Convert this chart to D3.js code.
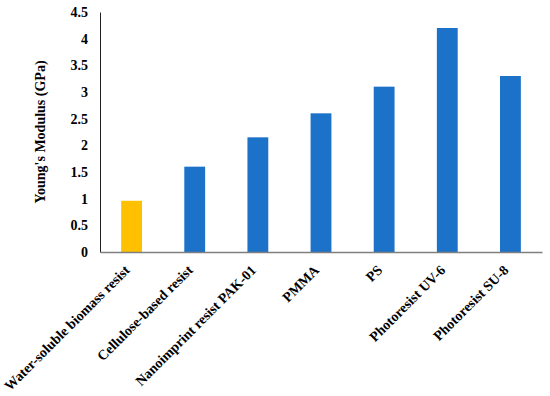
<!DOCTYPE html>
<html>
<head>
<meta charset="utf-8">
<script src="https://cdn.jsdelivr.net/npm/d3@7"></script>
<style>
  body { margin: 0; background: #fff; }
  svg text { font-family: "Liberation Serif", "Times New Roman", serif; font-weight: bold; }
</style>
</head>
<body>
<div id="chart"></div>
<script>
// chart data
const categories = [
  "Water-soluble biomass resist",
  "Cellulose-based resist",
  "Nanoimprint resist PAK-01",
  "PMMA",
  "PS",
  "Photoresist UV-6",
  "Photoresist SU-8"
];
const modulus = [0.96, 1.6, 2.15, 2.6, 3.1, 4.2, 3.3];
const yTicks = [0, 0.5, 1, 1.5, 2, 2.5, 3, 3.5, 4, 4.5];

const width = 550, height = 396;
const margin = { top: 12, right: 8, bottom: 144, left: 100 };

const svg = d3.select("#chart")
  .append("svg")
  .attr("width", width)
  .attr("height", height);

const x = d3.scaleBand()
  .domain(categories)
  .range([margin.left, width - margin.right])
  .paddingInner(0.67)
  .paddingOuter(0.335);

const y = d3.scaleLinear()
  .domain([0, 4.5])
  .range([height - margin.bottom, margin.top]);

// bars
svg.append("g")
  .selectAll("rect")
  .data(modulus)
  .join("rect")
  .attr("x", (d, i) => x(categories[i]))
  .attr("y", d => y(d))
  .attr("width", x.bandwidth())
  .attr("height", d => y(0) - y(d))
  .attr("fill", (d, i) => i === 0 ? "#FFC000" : "#1C72C9");

// y axis
const yAxis = svg.append("g")
  .attr("transform", `translate(${margin.left},0)`)
  .call(d3.axisLeft(y).tickValues(yTicks).tickSize(0).tickPadding(12).tickFormat(d3.format("")));
yAxis.select(".domain").attr("stroke", "#222").attr("stroke-width", 1);
yAxis.selectAll("text").style("font-size", "14px").attr("fill", "#000");

// x axis
const xAxis = svg.append("g")
  .attr("transform", `translate(0,${y(0)})`)
  .call(d3.axisBottom(x).tickSize(0).tickPadding(0));
xAxis.select(".domain").attr("stroke", "#7f7f7f").attr("stroke-width", 1.5);
xAxis.selectAll("text")
  .style("font-size", "14px")
  .attr("fill", "#000")
  .attr("text-anchor", "end")
  .attr("dy", "0")
  .attr("transform", "translate(-1,19) rotate(-45)");

// y axis title
svg.append("text")
  .attr("transform", `translate(45,${(margin.top + y(0)) / 2}) rotate(-90)`)
  .attr("text-anchor", "middle")
  .style("font-size", "14px")
  .text("Young's Modulus (GPa)");
</script>
</body>
</html>
